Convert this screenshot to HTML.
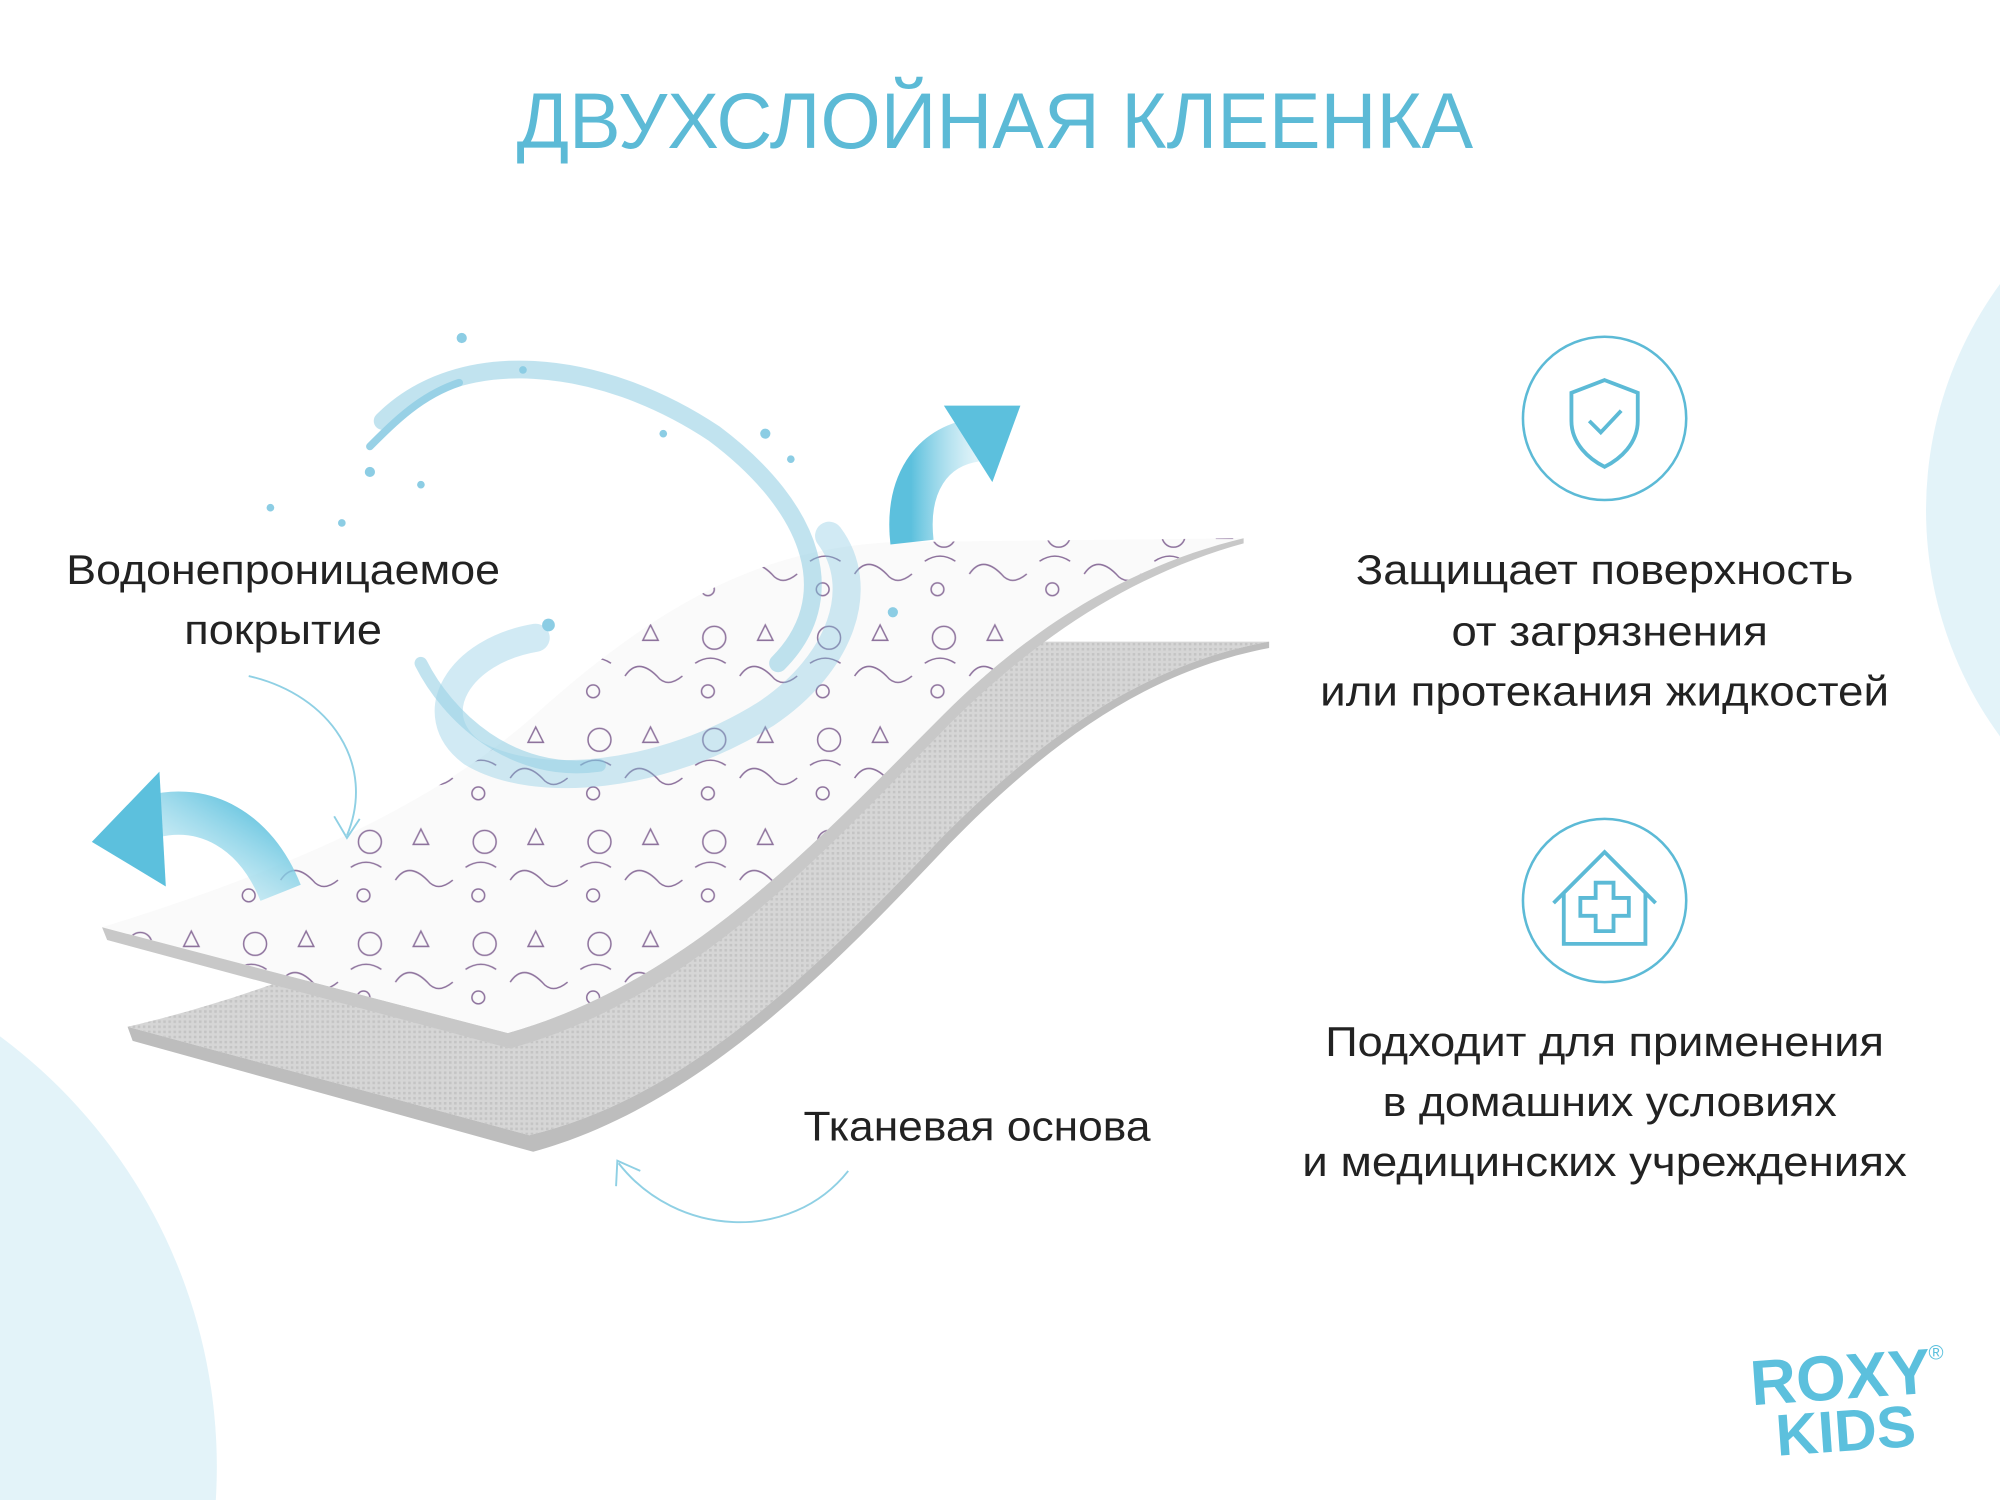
<!DOCTYPE html>
<html><head><meta charset="utf-8"><style>
html,body{margin:0;padding:0;background:#fff;width:2000px;height:1500px;overflow:hidden}
svg{display:block;overflow:hidden}
text{font-family:"Liberation Sans","DejaVu Sans",sans-serif}
</style></head><body>
<svg width="2000" height="1500" viewBox="0 0 1568 1176" xmlns="http://www.w3.org/2000/svg">
<defs>
<clipPath id="frame"><rect x="0" y="0" width="1568" height="1176"/></clipPath>
<pattern id="doodle" width="90" height="80" patternUnits="userSpaceOnUse">
<circle cx="20" cy="20" r="9" fill="none" stroke="#7a5a8c" stroke-width="1.2"/>
<path d="M40 50 q10 -15 25 0 q8 10 20 0" fill="none" stroke="#7a5a8c" stroke-width="1.2"/>
<path d="M60 10 l6 12 l-12 0 z" fill="none" stroke="#7a5a8c" stroke-width="1.2"/>
<circle cx="15" cy="62" r="5" fill="none" stroke="#7a5a8c" stroke-width="1.2"/>
<path d="M5 40 q12 -8 24 0" fill="none" stroke="#7a5a8c" stroke-width="1.2"/>
</pattern>
<pattern id="fabric" width="4" height="4" patternUnits="userSpaceOnUse">
<rect width="4" height="4" fill="#d6d6d6"/><rect width="2" height="2" fill="#c4c4c4"/>
</pattern>
<linearGradient id="ag" x1="0" y1="0" x2="1" y2="0">
<stop offset="0" stop-color="#5cc0dd"/><stop offset="1" stop-color="#bfe6f2" stop-opacity="0.5"/>
</linearGradient>
<linearGradient id="ag2" x1="0" y1="1" x2="1" y2="0">
<stop offset="0" stop-color="#cdeef7" stop-opacity="0.4"/><stop offset="1" stop-color="#5cc0dd"/>
</linearGradient>
</defs>
<g clip-path="url(#frame)">
<circle cx="1810" cy="400" r="300" fill="#e3f3f9"/>
<circle cx="-250" cy="1150" r="420" fill="#e3f3f9"/>
</g>

<text x="780" y="116" text-anchor="middle" font-size="62" fill="#5cbad6" textLength="750" lengthAdjust="spacingAndGlyphs">ДВУХСЛОЙНАЯ КЛЕЕНКА</text>

<path d="M100,805 C250,770 380,705 480,625 C580,545 680,505 800,503 L995,503 C900,520 820,575 740,655 C640,760 540,860 415,890 L100,805 Z" fill="url(#fabric)"/>
<path d="M100,805 L415,890 C540,860 640,760 740,655 C820,575 900,520 995,503 L995,508 C900,526 822,582 744,662 C644,768 544,868 418,903 L104,816 Z" fill="#bdbdbd"/>

<path d="M80,727 C200,690 330,640 420,560 C520,470 600,430 700,425 L975,422 C900,440 820,480 740,560 C640,660 540,770 398,810 Z" fill="#fafafa"/>
<path d="M80,727 C200,690 330,640 420,560 C520,470 600,430 700,425 L975,422 C900,440 820,480 740,560 C640,660 540,770 398,810 Z" fill="url(#doodle)" opacity="0.85"/>
<path d="M80,727 L398,810 C540,770 640,660 740,560 C820,480 900,440 975,422 L975,426 C902,446 824,488 744,568 C644,670 544,782 400,822 L84,737 Z" fill="#c8c8c8"/>

<g fill="none" stroke="#7fc6e0" stroke-linecap="round" opacity="0.8">
<path d="M300,330 C360,270 470,280 560,340 C640,400 660,470 610,520" stroke-width="14" opacity="0.6"/>
<path d="M420,500 C360,510 330,560 370,590 C420,620 520,610 600,560 C660,520 680,460 650,420" stroke-width="22" opacity="0.45"/>
<path d="M330,520 C350,560 400,610 470,600" stroke-width="10" opacity="0.6"/>
<path d="M290,350 C310,330 330,310 360,300" stroke-width="6"/>
</g>
<g fill="#8ccde4">
<circle cx="362" cy="265" r="4"/><circle cx="290" cy="370" r="4"/><circle cx="212" cy="398" r="3"/><circle cx="268" cy="410" r="3"/>
<circle cx="410" cy="290" r="3"/><circle cx="620" cy="360" r="3"/><circle cx="600" cy="340" r="4"/><circle cx="430" cy="490" r="5"/>
<circle cx="330" cy="380" r="3"/><circle cx="520" cy="340" r="3"/><circle cx="700" cy="480" r="4"/>
</g>

<path d="M220,700 C200,650 160,630 120,640" fill="none" stroke="url(#ag2)" stroke-width="34"/>
<path d="M72,660 L125,605 L130,695 Z" fill="#5cc0dd"/>
<path d="M715,425 C710,380 730,350 765,345" fill="none" stroke="url(#ag)" stroke-width="34"/>
<path d="M800,318 L740,318 L778,378 Z" fill="#5cc0dd"/>

<path d="M195,530 C260,545 295,600 272,655" fill="none" stroke="#8fd0e4" stroke-width="1.5"/>
<path d="M262,640 L272,657 L282,642" fill="none" stroke="#8fd0e4" stroke-width="1.5"/>
<path d="M665,918 C620,975 530,970 485,912" fill="none" stroke="#8fd0e4" stroke-width="1.5"/>
<path d="M483,930 L484,910 L502,918" fill="none" stroke="#8fd0e4" stroke-width="1.5"/>

<g font-size="33" fill="#222" text-anchor="middle">
<text x="222" y="458" textLength="340" lengthAdjust="spacingAndGlyphs">Водонепроницаемое</text>
<text x="222" y="505" textLength="155" lengthAdjust="spacingAndGlyphs">покрытие</text>
<text x="766" y="894" textLength="272" lengthAdjust="spacingAndGlyphs">Тканевая основа</text>
<text x="1258" y="458" textLength="390" lengthAdjust="spacingAndGlyphs">Защищает поверхность</text>
<text x="1262" y="506" textLength="248" lengthAdjust="spacingAndGlyphs">от загрязнения</text>
<text x="1258" y="553" textLength="446" lengthAdjust="spacingAndGlyphs">или протекания жидкостей</text>
<text x="1258" y="828" textLength="438" lengthAdjust="spacingAndGlyphs">Подходит для применения</text>
<text x="1262" y="875" textLength="356" lengthAdjust="spacingAndGlyphs">в домашних условиях</text>
<text x="1258" y="922" textLength="474" lengthAdjust="spacingAndGlyphs">и медицинских учреждениях</text>
</g>

<g fill="none" stroke="#5cbad6" stroke-width="2">
<circle cx="1258" cy="328" r="64"/>
<path d="M1258,298 L1284,308 L1284,330 C1284,348 1270,360 1258,366 C1246,360 1232,348 1232,330 L1232,308 Z" stroke-width="3"/>
<path d="M1246,330 L1255,339 L1271,322" stroke-width="3"/>
<circle cx="1258" cy="706" r="64"/>
<path d="M1218,708 L1258,668 L1298,708 M1226,700 L1226,740 L1290,740 L1290,700" stroke-width="3"/>
<path d="M1251,692 h14 v12 h12 v14 h-12 v12 h-14 v-12 h-12 v-14 h12 z" stroke-width="3"/>
</g>

<g font-weight="bold" fill="#5cc0dd">
<text x="1372" y="1097" font-size="50" transform="rotate(-4 1440 1080)">ROXY</text>
<text x="1392" y="1138" font-size="46" transform="rotate(-4 1440 1120)">KIDS</text>
<text x="1512" y="1066" font-size="16" font-weight="normal">®</text>
</g>
</svg>
</body></html>
